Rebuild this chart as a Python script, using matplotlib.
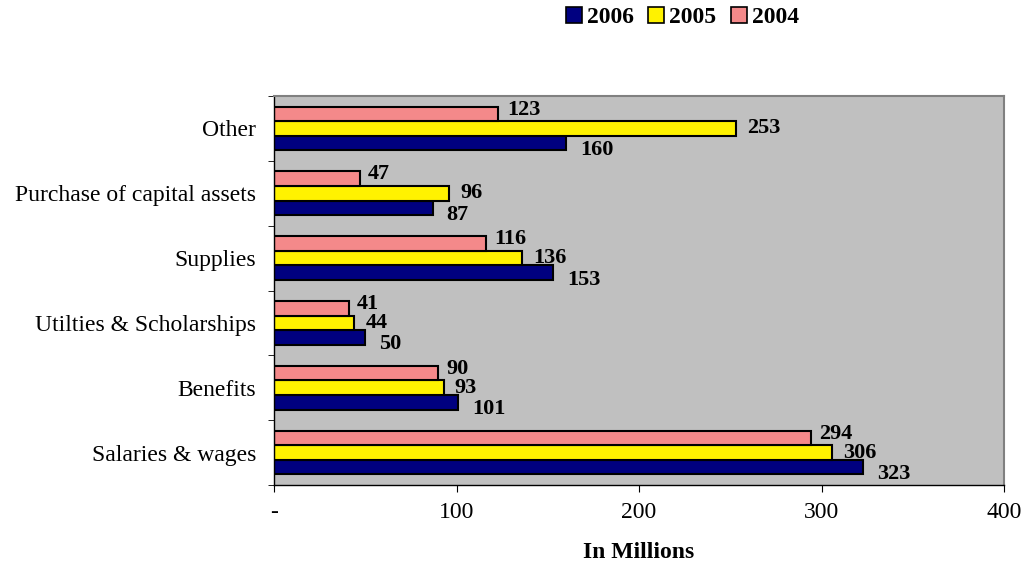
import matplotlib
matplotlib.use("Agg")
import matplotlib.pyplot as plt
from matplotlib.lines import Line2D
import numpy as np

categories = ["Salaries & wages", "Benefits", "Utilties & Scholarships",
              "Supplies", "Purchase of capital assets", "Other"]
v2006 = [323, 101, 50, 153, 87, 160]
v2005 = [306, 93, 44, 136, 96, 253]
v2004 = [294, 90, 41, 116, 47, 123]
xticks = [0, 100, 200, 300, 400]
xticklabels = ["-", "100", "200", "300", "400"]

plt.rcParams['font.family'] = ['Liberation Serif', 'DejaVu Serif']

fig = plt.figure(figsize=(10.21, 5.62), dpi=100)
ax = fig.add_axes([274/1021, 1-485/562, 730/1021, 389/562])
ax.set_facecolor("#C0C0C0")

y = np.arange(len(categories))
h = 0.225
series = [
    ("2006", v2006, "#000080", -h, (10, -5)),
    ("2005", v2005, "#FFF200", 0, (8, 0)),
    ("2004", v2004, "#F4898A", h, (6, 3)),
]
for name, vals, col, off, (dx, dy) in series:
    ax.barh(y + off, vals, height=h, color=col, edgecolor="black", linewidth=1.5, label=name)
    for yi, v in zip(y + off, vals):
        ax.annotate(str(v), (v, yi), xytext=(dx, dy), textcoords="offset points",
                    ha="left", va="center", fontsize=16, fontweight="bold")

ax.set_xlim(0, 400)
ax.set_ylim(-0.5, len(categories) - 0.5)
ax.set_xticks(xticks)
ax.set_xticklabels(xticklabels, fontsize=17)
ax.tick_params(axis="x", direction="out", length=5, pad=7, color="black")
ax.set_yticks(y)
ax.set_yticklabels(categories, fontsize=17)
ax.tick_params(axis="y", which="major", length=0, pad=13)
ax.set_yticks(np.arange(-0.5, len(categories), 1.0), minor=True)
ax.tick_params(axis="y", which="minor", length=4.5, direction="out", color="black")
ax.set_xlabel("In Millions", fontsize=17, fontweight="bold", labelpad=14)

for s in ["top", "right"]:
    ax.spines[s].set_color("#808080")
    ax.spines[s].set_linewidth(1.5)
for s in ["left", "bottom"]:
    ax.spines[s].set_color("black")
    ax.spines[s].set_linewidth(1.0)

handles = [Line2D([], [], marker="s", linestyle="none", markersize=11,
                  markerfacecolor=c, markeredgecolor="black", markeredgewidth=1.2)
           for _, _, c, _, _ in series]
fig.legend(handles, [s[0] for s in series], loc="center", bbox_to_anchor=(681/1021, 1-17/562),
           ncol=3, frameon=False, prop={"weight": "bold", "size": 17},
           handletextpad=0.1, columnspacing=0.5, handlelength=0.9, borderpad=0.2)

fig.savefig("out.png", dpi=100)
